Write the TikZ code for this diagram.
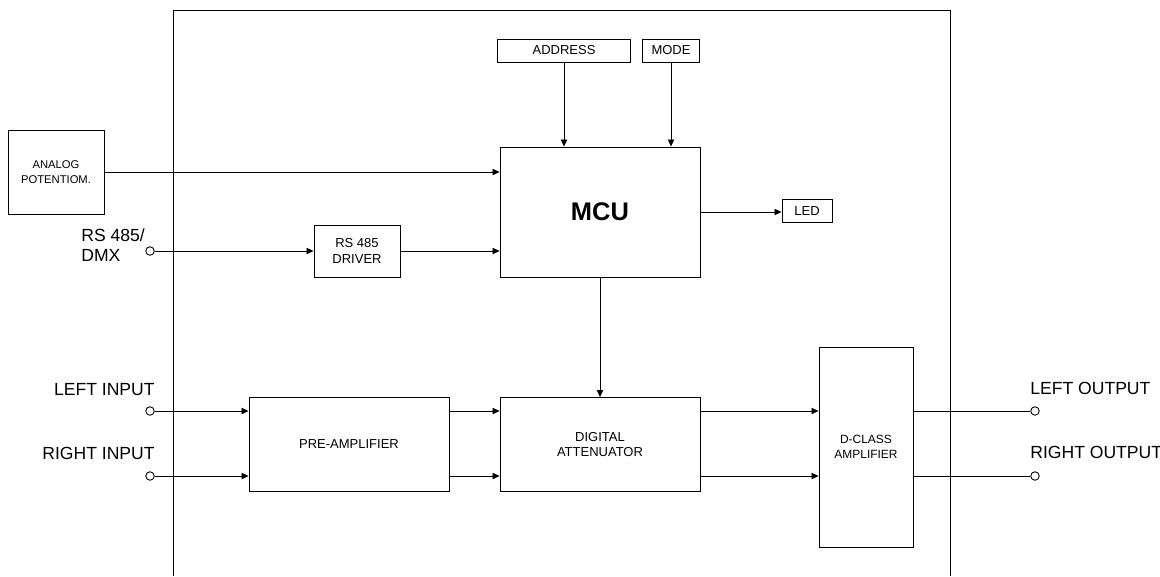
\documentclass[tikz,border=0pt]{standalone}
\usepackage{fontspec}
\setmainfont{Liberation Sans}
\usepackage{tikz}
\usetikzlibrary{arrows.meta, positioning, calc}
\tikzset{
  blk/.style   = {rectangle, draw=black, line width=0.5pt, align=center,
                  inner sep=1pt, font=\fontsize{7.4}{8.6}\selectfont},
  term/.style  = {circle, draw=black, line width=0.5pt, fill=white,
                  inner sep=0pt, minimum size=0.17cm},
  lbl/.style   = {inner sep=0pt, align=left,
                  font=\fontsize{10}{11.5}\selectfont},
  arrow/.style = {-{Triangle[length=4pt, width=3.6pt]}, line width=0.5pt},
  wire/.style  = {line width=0.5pt},
}

\begin{document}
\begin{tikzpicture}[x=0.02cm, y=-0.02cm]
  \useasboundingbox (0,0) rectangle (1160,576);

  % device frame (open at the bottom)
  \draw[wire] (173,576) -- (173,10) -- (950,10) -- (950,576);

  % blocks
  \node[blk, minimum width=1.92cm, minimum height=1.68cm,
        font=\fontsize{6.4}{8.6}\selectfont] (pot) at (56,172)
    {ANALOG\\POTENTIOM.};
  \node[blk, minimum width=2.66cm, minimum height=0.46cm] (addr) at (564,50.5)
    {\raisebox{-1.5pt}{ADDRESS}};
  \node[blk, minimum width=1.14cm, minimum height=0.46cm] (mode) at (671,50.5)
    {\raisebox{-1.5pt}{MODE}};
  \node[blk, minimum width=4cm, minimum height=2.6cm,
        font=\fontsize{14.5}{16}\selectfont\bfseries] (mcu) at (600,212) {MCU};
  \node[blk, minimum width=1.0cm, minimum height=0.46cm] (led) at (807,211)
    {LED};
  \node[blk, minimum width=1.72cm, minimum height=1.04cm] (drv) at (357,251)
    {RS 485\\DRIVER};
  \node[blk, minimum width=4cm, minimum height=1.88cm] (pre) at (349,444.5)
    {PRE-AMPLIFIER};
  \node[blk, minimum width=4cm, minimum height=1.88cm] (att) at (600,444.5)
    {DIGITAL\\ATTENUATOR};
  \node[blk, minimum width=1.88cm, minimum height=4cm,
        font=\fontsize{6.8}{8.6}\selectfont] (amp) at (866,447)
    {D-CLASS\\AMPLIFIER};

  % terminals
  \node[term] (rs)   at (150,251)  {};
  \node[term] (inl)  at (150,411)  {};
  \node[term] (inr)  at (150,476)  {};
  \node[term] (outl) at (1035,411) {};
  \node[term] (outr) at (1035,476) {};

  % terminal labels
  \node[lbl, anchor=west] (rslbl)   at (81,245)    {RS 485/\\DMX};
  \node[lbl, anchor=east] (inllbl)  at (155,389.5) {LEFT INPUT};
  \node[lbl, anchor=east] (inrlbl)  at (155,453)   {RIGHT INPUT};
  \node[lbl, anchor=west] (outllbl) at (1030,388)  {LEFT OUTPUT};
  \node[lbl, anchor=west] (outrlbl) at (1030,452)  {RIGHT OUTPUT};

  % control path
  \draw[arrow] (pot.east) -- (pot.east -| mcu.west);
  \draw[arrow] (addr.south) -- (addr.south |- mcu.north);
  \draw[arrow] (mode.south) -- (mode.south |- mcu.north);
  \draw[arrow] (mcu.east) -- (led.west |- mcu.east);
  \draw[arrow] (rs.east) -- (drv.west);
  \draw[arrow] (drv.east) -- (drv.east -| mcu.west);
  \draw[arrow] (mcu.south) -- (att.north);

  % audio path
  \draw[arrow] (inl.east) -- (inl -| pre.west);
  \draw[arrow] (inr.east) -- (inr -| pre.west);
  \draw[arrow] (pre.east |- inl) -- (att.west |- inl);
  \draw[arrow] (pre.east |- inr) -- (att.west |- inr);
  \draw[arrow] (att.east |- inl) -- (amp.west |- inl);
  \draw[arrow] (att.east |- inr) -- (amp.west |- inr);
  \draw[wire] (amp.east |- outl) -- (outl.west);
  \draw[wire] (amp.east |- outr) -- (outr.west);
\end{tikzpicture}
\end{document}
